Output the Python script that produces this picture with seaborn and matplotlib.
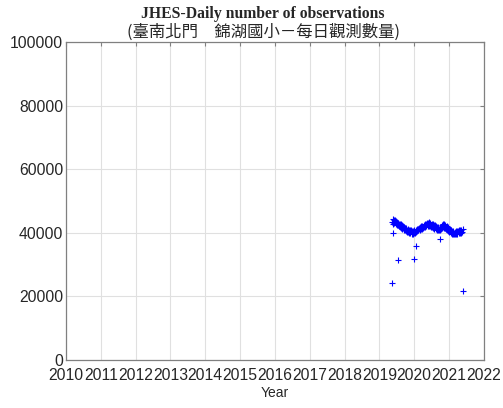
'''JHES daily number of observations chart'''
import pandas as pd
import seaborn as sns
import matplotlib.pyplot as plt
import matplotlib.dates as mdates

start_date = '2019-05-15'
daily_counts = [
    43300, 44300, 42900, 43900, 43000, 44100, 42700, 43600, 42500, 43400,
    42300, 43200, 42000, 42900, 41800, 42600, 41500, 42400, 41300, 42100,
    41000, 41900, 40700, 41600, 40500, 41400, 40300, 41200, 40100, 40900,
    39900, 40800, 39800, 40700, 39700, 40600, 39600, 40500, 39800, 40700,
    39900, 40900, 40100, 41100, 40400, 41300, 40700, 41600, 40900, 41800,
    41100, 42000, 41300, 42200, 41500, 42400, 41700, 42600, 41800, 42800,
    42000, 43000, 42100, 43200, 42200, 43300, 42000, 43100, 41900, 42900,
    41700, 42700, 41500, 42500, 41300, 42300, 41100, 42100, 41000, 41900,
    40900, 41800, 40800, 41700, 40900, 41900, 41200, 42300, 41500, 42700,
    41600, 42800, 41400, 42500, 41100, 42100, 40800, 41700, 40500, 41300,
    40200, 41000, 39900, 40700, 39700, 40500, 39600, 40400, 39500, 40300,
    39500, 40400, 39600, 40500, 39700, 40600, 39800, 40700, 39900, 40900,
    40000, 41000, 40100, 41100,
]

# days with unusually low counts
outlier_dates = ['2019-05-15', '2019-05-27', '2019-07-16', '2020-01-01',
                 '2020-01-23', '2020-10-01', '2021-05-27']
outlier_counts = [24200, 39900, 31400, 31700, 35900, 38000, 21700]

y_ticks = [0, 20000, 40000, 60000, 80000, 100000]

df = pd.DataFrame({
    'date': pd.date_range(start_date, periods=len(daily_counts), freq='6D'),
    'count': daily_counts,
})
df_out = pd.DataFrame({'date': pd.to_datetime(outlier_dates), 'count': outlier_counts})
df_all = pd.concat([df, df_out], ignore_index=True)

sns.set_style('whitegrid')
plt.rcParams['font.family'] = ['Liberation Sans', 'Noto Sans CJK TC']

fig = plt.figure(figsize=(5.03, 4.08), dpi=100)
ax = fig.add_axes([0.131, 0.118, 0.831, 0.779])

sns.scatterplot(data=df_all, x='date', y='count', marker='+', color='#0000ff',
                s=18, linewidth=0.8, ax=ax)

ax.set_xlim(pd.Timestamp('2010-01-01'), pd.Timestamp('2022-01-01'))
ax.set_ylim(0, 100000)
ax.xaxis.set_major_locator(mdates.YearLocator())
ax.xaxis.set_major_formatter(mdates.DateFormatter('%Y'))
ax.set_yticks(y_ticks)

ax.grid(True, color='#e0e0e0', linewidth=0.8)
for side in ax.spines.values():
    side.set_color('#808080')
    side.set_linewidth(0.9)
ax.tick_params(direction='in', length=3, color='#808080', labelsize=11.3,
               top=True, right=True, pad=2, labelcolor='#262626')
ax.tick_params(axis='x', pad=6)

ax.set_xlabel('Year', fontsize=10, color='#262626', labelpad=2)
ax.set_ylabel('')

fig.text(0.523, 0.965, 'JHES-Daily number of observations', ha='center', va='center',
         fontsize=11.3, fontweight='bold', family='Liberation Serif')
fig.text(0.523, 0.92, '(臺南北門\u3000錦湖國小－每日觀測數量)', ha='center', va='center',
         fontsize=11.8, family=['Noto Sans CJK TC', 'DejaVu Sans'])

fig.savefig('out.png', dpi=100)
